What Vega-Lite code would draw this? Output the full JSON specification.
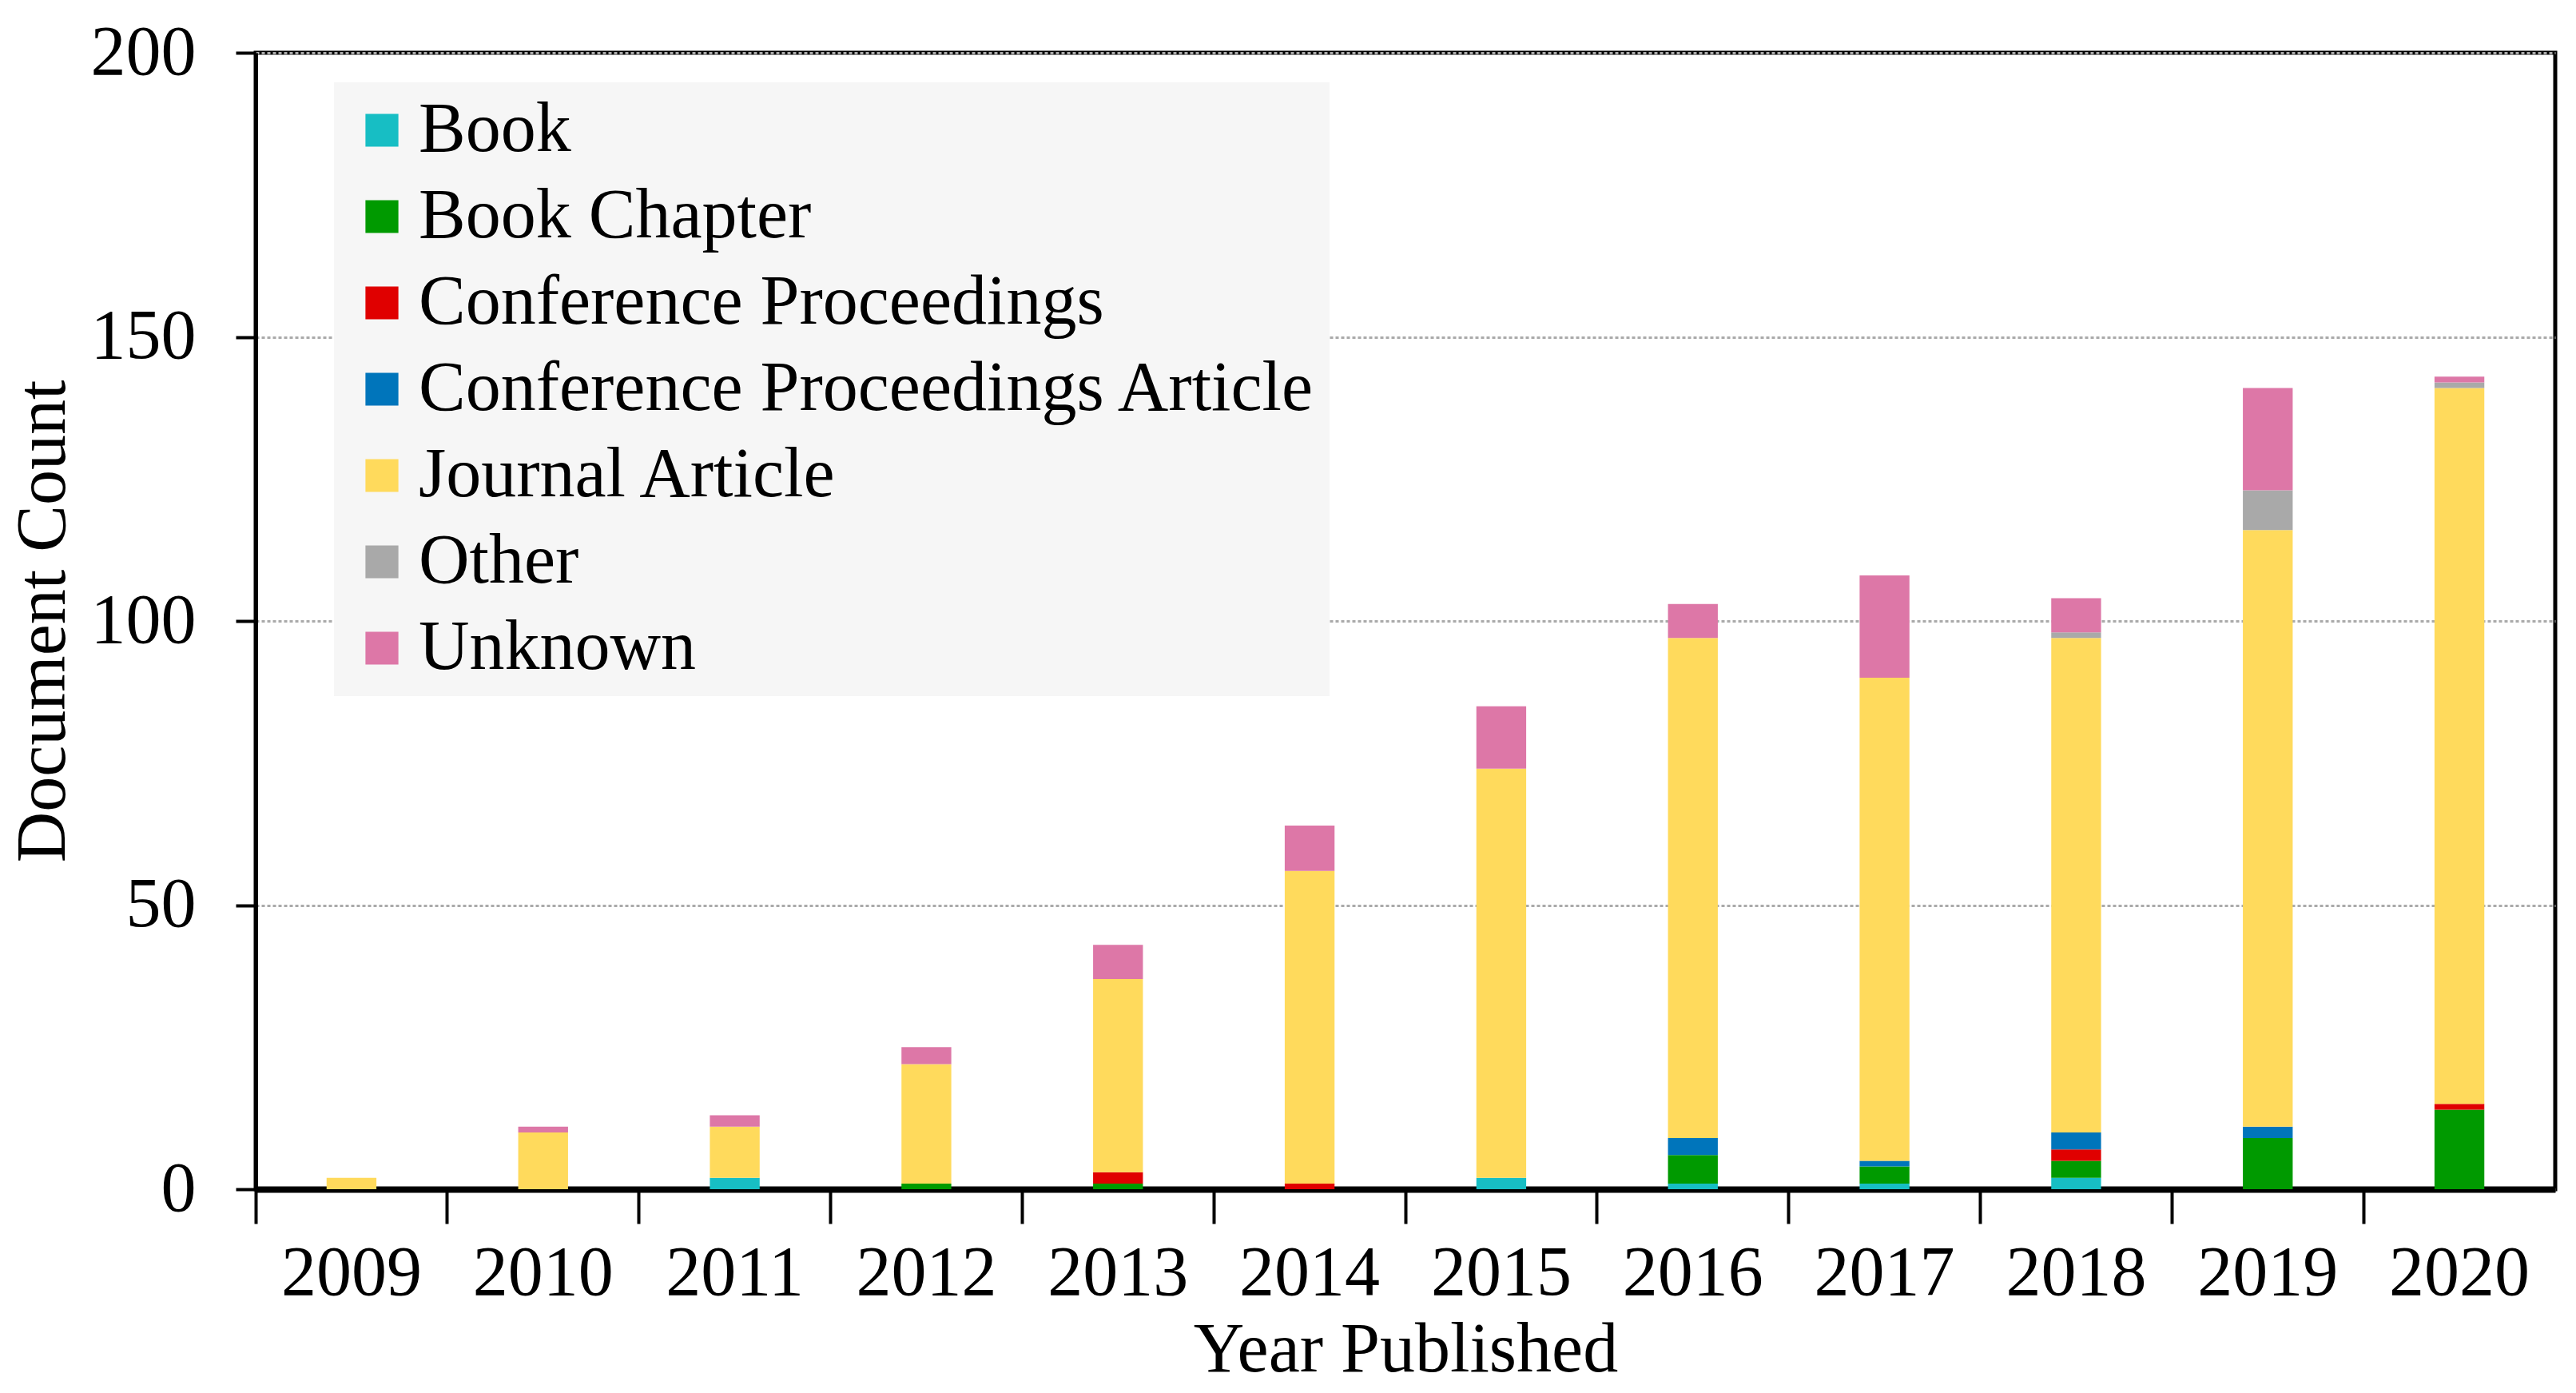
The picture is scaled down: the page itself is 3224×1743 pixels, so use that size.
{
  "$schema": "https://vega.github.io/schema/vega-lite/v6.json",
  "width": 2878,
  "height": 1422,
  "autosize": {"type": "none"},
  "padding": {"left": 320, "top": 66, "right": 10, "bottom": 247},
  "background": "white",
  "config": {
    "font": "Liberation Serif",
    "view": {"stroke": "black", "strokeWidth": 5},
    "axis": {"labelFont": "Liberation Serif", "titleFont": "Liberation Serif", "labelColor": "black", "titleColor": "black", "titleFontWeight": "normal"},
    "legend": {"labelFont": "Liberation Serif"}
  },
  "data": {
    "values": [
      {"year": "2009", "type": "Journal Article", "count": 2},
      {"year": "2010", "type": "Journal Article", "count": 10},
      {"year": "2010", "type": "Unknown", "count": 1},
      {"year": "2011", "type": "Book", "count": 2},
      {"year": "2011", "type": "Journal Article", "count": 9},
      {"year": "2011", "type": "Unknown", "count": 2},
      {"year": "2012", "type": "Book Chapter", "count": 1},
      {"year": "2012", "type": "Journal Article", "count": 21},
      {"year": "2012", "type": "Unknown", "count": 3},
      {"year": "2013", "type": "Book Chapter", "count": 1},
      {"year": "2013", "type": "Conference Proceedings", "count": 2},
      {"year": "2013", "type": "Journal Article", "count": 34},
      {"year": "2013", "type": "Unknown", "count": 6},
      {"year": "2014", "type": "Conference Proceedings", "count": 1},
      {"year": "2014", "type": "Journal Article", "count": 55},
      {"year": "2014", "type": "Unknown", "count": 8},
      {"year": "2015", "type": "Book", "count": 2},
      {"year": "2015", "type": "Journal Article", "count": 72},
      {"year": "2015", "type": "Unknown", "count": 11},
      {"year": "2016", "type": "Book", "count": 1},
      {"year": "2016", "type": "Book Chapter", "count": 5},
      {"year": "2016", "type": "Conference Proceedings Article", "count": 3},
      {"year": "2016", "type": "Journal Article", "count": 88},
      {"year": "2016", "type": "Unknown", "count": 6},
      {"year": "2017", "type": "Book", "count": 1},
      {"year": "2017", "type": "Book Chapter", "count": 3},
      {"year": "2017", "type": "Conference Proceedings Article", "count": 1},
      {"year": "2017", "type": "Journal Article", "count": 85},
      {"year": "2017", "type": "Unknown", "count": 18},
      {"year": "2018", "type": "Book", "count": 2},
      {"year": "2018", "type": "Book Chapter", "count": 3},
      {"year": "2018", "type": "Conference Proceedings", "count": 2},
      {"year": "2018", "type": "Conference Proceedings Article", "count": 3},
      {"year": "2018", "type": "Journal Article", "count": 87},
      {"year": "2018", "type": "Other", "count": 1},
      {"year": "2018", "type": "Unknown", "count": 6},
      {"year": "2019", "type": "Book Chapter", "count": 9},
      {"year": "2019", "type": "Conference Proceedings Article", "count": 2},
      {"year": "2019", "type": "Journal Article", "count": 105},
      {"year": "2019", "type": "Other", "count": 7},
      {"year": "2019", "type": "Unknown", "count": 18},
      {"year": "2020", "type": "Book Chapter", "count": 14},
      {"year": "2020", "type": "Conference Proceedings", "count": 1},
      {"year": "2020", "type": "Journal Article", "count": 126},
      {"year": "2020", "type": "Other", "count": 1},
      {"year": "2020", "type": "Unknown", "count": 1}
    ]
  },
  "mark": {"type": "bar", "width": {"band": 0.26}},
  "encoding": {
    "x": {
      "field": "year", "type": "ordinal",
      "scale": {"paddingInner": 0, "paddingOuter": 0},
      "axis": {
        "title": "Year Published", "labelAngle": 0, "bandPosition": 0,
        "labelFontSize": 88, "titleFontSize": 88,
        "tickSize": 43, "tickWidth": 4, "tickColor": "black",
        "domainColor": "black", "domainWidth": 8,
        "labelPadding": 18, "titlePadding": 8, "labelBaseline": "top"
      }
    },
    "y": {
      "field": "count", "type": "quantitative", "stack": "zero",
      "scale": {"domain": [0, 200]},
      "axis": {
        "title": "Document Count", "values": [0, 50, 100, 150, 200],
        "labelFontSize": 88, "titleFontSize": 88,
        "tickSize": 25, "tickWidth": 4, "tickColor": "black",
        "domainColor": "black", "domainWidth": 5,
        "labelPadding": 50, "titlePadding": 22,
        "grid": true, "gridColor": "#aaaaaa", "gridWidth": 3, "gridDash": [4, 3]
      }
    },
    "color": {
      "field": "type", "type": "nominal",
      "scale": {
        "domain": ["Book", "Book Chapter", "Conference Proceedings", "Conference Proceedings Article", "Journal Article", "Other", "Unknown"],
        "range": ["#17BEC4", "#009A00", "#E00000", "#0075BB", "#FFDA5C", "#A9A9A9", "#DD77A7"]
      },
      "legend": {
        "title": null, "orient": "none", "legendX": 98, "legendY": 37,
        "fillColor": "#F6F6F6", "padding": 16,
        "labelFontSize": 88, "labelColor": "black", "labelLimit": 2000,
        "symbolType": "square", "symbolSize": 1700, "symbolStrokeWidth": 0,
        "rowPadding": 20, "labelOffset": 2
      }
    },
    "order": {"field": "type", "sort": "ascending"}
  }
}
